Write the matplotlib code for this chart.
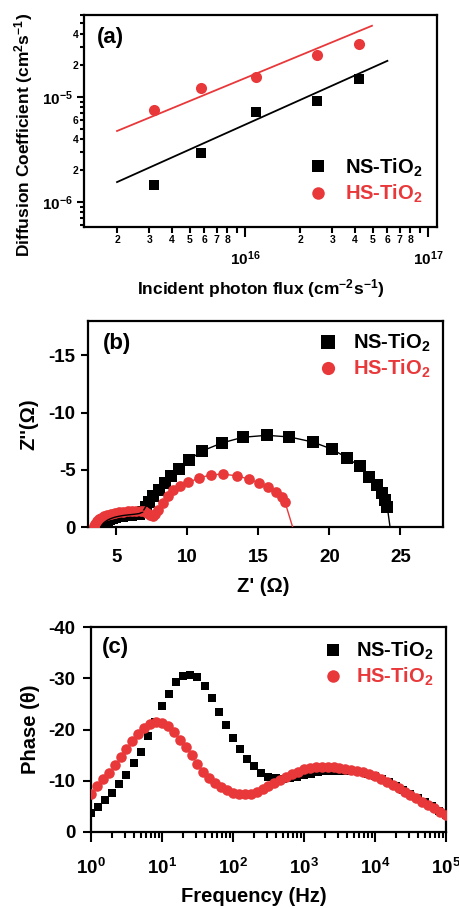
import numpy as np
import matplotlib
matplotlib.use("Agg")
import matplotlib.pyplot as plt
from matplotlib.ticker import LogLocator, FuncFormatter, FixedLocator, NullFormatter
from matplotlib.lines import Line2D

plt.rcParams['font.family'] = ['Liberation Sans', 'DejaVu Sans']
plt.rcParams['font.weight'] = 'bold'
plt.rcParams['axes.labelweight'] = 'bold'
plt.rcParams['mathtext.fontset'] = 'custom'
plt.rcParams['mathtext.rm'] = 'Liberation Sans'
plt.rcParams['mathtext.bf'] = 'Liberation Sans:bold'
plt.rcParams['mathtext.it'] = 'Liberation Sans:italic:bold'
plt.rcParams['mathtext.default'] = 'bf'
plt.rcParams['axes.unicode_minus'] = False

RED = '#E8383A'
BLACK = '#000000'
NS_LABEL = r'NS-TiO$_2$'
HS_LABEL = r'HS-TiO$_2$'

# ---------------- (a) data ----------------
flux = [3.2e15, 5.75e15, 1.15e16, 2.47e16, 4.2e16]
D_ns = [1.45e-6, 2.93e-6, 7.2e-6, 9.2e-6, 1.48e-5]
D_hs = [7.5e-6, 1.22e-5, 1.55e-5, 2.5e-5, 3.2e-5]
fit_ns_x = [2.0e15, 6.0e16]
fit_ns_y = [1.55e-6, 2.2e-5]
fit_hs_x = [2.0e15, 4.94e16]
fit_hs_y = [4.74e-6, 4.74e-5]

# ---------------- (b) data ----------------
ns_zre = [3.9, 4.0, 4.1, 4.2, 4.35, 4.5, 4.7, 4.9, 5.15, 5.4, 5.7, 6.0, 6.3, 6.6, 6.85,
          7.05, 7.3, 7.6, 8.0, 8.45, 8.85, 9.4, 10.08, 11.05, 12.42, 13.9, 15.58, 17.18,
          18.82, 20.16, 21.23, 22.15, 22.8, 23.33, 23.68, 23.92, 24.08]
ns_zim = [0.0, -0.2, -0.35, -0.45, -0.58, -0.68, -0.78, -0.86, -0.93, -0.99, -1.04, -1.08,
          -1.12, -1.17, -1.3, -1.75, -2.15, -2.7, -3.25, -3.85, -4.45, -5.1, -5.85, -6.65,
          -7.34, -7.84, -8.01, -7.87, -7.43, -6.81, -6.06, -5.29, -4.41, -3.68, -2.95,
          -2.37, -1.73]
ns_fit_end = [24.27, 0.0]
hs_zre = [3.45, 3.5, 3.6, 3.75, 3.9, 4.1, 4.35, 4.6, 4.9, 5.2, 5.5, 5.8, 6.1, 6.4, 6.7,
          6.95, 7.15, 7.35, 7.55, 7.75, 7.95, 8.3, 8.65, 9.0, 9.48, 10.06, 10.8, 11.64,
          12.53, 13.47, 14.36, 15.06, 15.7, 16.24, 16.64, 16.87]
hs_zim = [-0.1, -0.3, -0.5, -0.68, -0.82, -0.95, -1.07, -1.16, -1.24, -1.3, -1.35, -1.38,
          -1.4, -1.41, -1.42, -1.38, -1.25, -1.05, -0.95, -1.1, -1.5, -2.13, -2.72, -3.19,
          -3.54, -3.89, -4.27, -4.56, -4.62, -4.47, -4.18, -3.83, -3.48, -3.04, -2.6, -2.19]
hs_fit_end = [17.41, 0.0]

# ---------------- (c) data ----------------
freq_ns = [1, 1.259, 1.585, 1.995, 2.512, 3.162, 3.981, 5.012, 6.31, 7.943,
           10, 12.59, 15.85, 19.95, 25.12, 31.62, 39.81, 50.12, 63.1, 79.43,
           100, 125.9, 158.5, 199.5, 251.2, 316.2, 398.1, 501.2, 631, 794.3,
           1000, 1259, 1585, 1995, 2512, 3162, 3981, 5012, 6310, 7943,
           1e4, 1.259e4, 1.585e4, 1.995e4, 2.512e4, 3.162e4, 3.981e4, 5.012e4, 6.31e4, 7.943e4,
           1e5]
phase_ns = [-3.8, -4.8, -6.2, -7.7, -9.3, -11.1, -13.4, -15.7, -18.7, -21.5,
            -24.5, -27.0, -29.3, -30.4, -30.7, -30.2, -28.5, -26.1, -23.5, -20.9,
            -18.3, -16.2, -14.3, -12.8, -11.6, -10.8, -10.5, -10.4, -10.5, -10.8,
            -11.1, -11.4, -11.7, -11.9, -12.0, -12.0, -12.0, -11.9, -11.7, -11.4,
            -11.0, -10.4, -9.7, -9.0, -8.2, -7.4, -6.6, -5.8, -5.0, -4.1,
            -3.3]
freq_hs = [1, 1.212, 1.468, 1.778, 2.154, 2.61, 3.162, 3.831, 4.642, 5.623, 6.813, 8.254,
           10, 12.12, 14.68, 17.78, 21.54, 26.1, 31.62, 38.31, 46.42, 56.23, 68.13, 82.54,
           100, 121.2, 146.8, 177.8, 215.4, 261, 316.2, 383.1, 464.2, 562.3, 681.3, 825.4,
           1000, 1212, 1468, 1778, 2154, 2610, 3162, 3831, 4642, 5623, 6813, 8254,
           1e4, 1.212e4, 1.468e4, 1.778e4, 2.154e4, 2.61e4, 3.162e4, 3.831e4, 4.642e4,
           5.623e4, 6.813e4, 8.254e4, 1e5]
phase_hs = [-7.4, -8.9, -10.3, -11.6, -13.0, -14.7, -16.2, -17.7, -19.1, -20.3, -21.1, -21.5,
            -21.3, -20.6, -19.5, -18.0, -16.6, -15.0, -13.3, -11.8, -10.5, -9.5, -8.7, -8.1,
            -7.7, -7.5, -7.4, -7.5, -7.8, -8.3, -8.9, -9.5, -10.1, -10.7, -11.3, -11.8,
            -12.2, -12.5, -12.7, -12.7, -12.7, -12.6, -12.5, -12.3, -12.1, -11.9, -11.7, -11.3,
            -10.9, -10.4, -9.8, -9.2, -8.6, -7.9, -7.2, -6.6, -5.9, -5.3, -4.6, -4.0,
            -3.3]

W, H = 460, 908
fig = plt.figure(figsize=(W / 100, H / 100), dpi=100)


def box(l, t, r, b):
    return [l / W, 1 - b / H, (r - l) / W, (b - t) / H]


def style_axes(ax):
    for s in ax.spines.values():
        s.set_linewidth(1.6)
    ax.tick_params(which='both', direction='out', width=1.5, top=False, right=False)


def legend(ax, x, y, fs, pad, ms_s, ms_o):
    hs = [Line2D([], [], ls='none', marker='s', ms=ms_s, color=BLACK, mew=0),
          Line2D([], [], ls='none', marker='o', ms=ms_o, color=RED, mew=0)]
    lg = ax.legend(hs, [NS_LABEL, HS_LABEL], loc='center left', bbox_to_anchor=(x, y),
                   frameon=False, fontsize=fs, handlelength=1.0, handletextpad=pad,
                   borderpad=0, borderaxespad=0, labelspacing=0.2)
    lg.get_texts()[1].set_color(RED)
    return lg


def dec_fmt(x, pos):
    e = int(np.round(np.log10(x)))
    return r'$10^{%d}$' % e


def minor_fmt(keep, lo, hi):
    def f(x, pos):
        if x < lo or x > hi:
            return ''
        e = np.floor(np.log10(x) + 1e-9)
        m = int(np.round(x / 10 ** e))
        return str(m) if m in keep else ''
    return f


# ================= (a) =================
ax = fig.add_axes(box(84, 15, 437, 227))
style_axes(ax)
ax.set_xscale('log')
ax.set_yscale('log')
ax.plot(fit_ns_x, fit_ns_y, color=BLACK, lw=1.3)
ax.plot(fit_hs_x, fit_hs_y, color=RED, lw=1.3)
ax.plot(flux, D_ns, ls='none', marker='s', ms=7.2, color=BLACK, mew=0)
ax.plot(flux, D_hs, ls='none', marker='o', ms=8.0, color=RED, mew=0)
ax.set_xlim(1.32e15, 1.12e17)
ax.set_ylim(5.8e-7, 6.0e-5)

ax.xaxis.set_major_locator(LogLocator(base=10, subs=(1.0,)))
ax.xaxis.set_minor_locator(LogLocator(base=10, subs=np.arange(2, 10)))
ax.xaxis.set_major_formatter(FuncFormatter(dec_fmt))
ax.xaxis.set_minor_formatter(FuncFormatter(minor_fmt({2, 3, 4, 5, 6, 7, 8}, 0, 1e20)))
ax.yaxis.set_major_locator(LogLocator(base=10, subs=(1.0,)))
ax.yaxis.set_minor_locator(LogLocator(base=10, subs=np.arange(2, 10)))
ax.yaxis.set_major_formatter(FuncFormatter(dec_fmt))
ax.yaxis.set_minor_formatter(FuncFormatter(minor_fmt({2, 4, 6}, 1e-6, 5e-5)))
ax.tick_params(axis='x', which='major', length=7, labelsize=11, pad=9)
ax.tick_params(axis='x', which='minor', length=4, labelsize=7.5, pad=2)
ax.tick_params(axis='y', which='major', length=5, labelsize=11, pad=3)
ax.tick_params(axis='y', which='minor', length=3, labelsize=7.5, pad=1)
ax.set_xlabel(r'Incident photon flux (cm$^{-2}$s$^{-1}$)', fontsize=12.5)
ax.set_ylabel(r'Diffusion Coefficient (cm$^{2}$s$^{-1}$)', fontsize=12.5)
ax.xaxis.set_label_coords(0.501, -0.236)
ax.yaxis.set_label_coords(-0.139, 0.434)
ax.text(0.037, 0.892, '(a)', transform=ax.transAxes, fontsize=16, ha='left', va='center')
legend(ax, 0.635, 0.219, 14.5, 0.85, 8.4, 9.0)

# ================= (b) =================
ax = fig.add_axes(box(88, 321, 443, 527))
style_axes(ax)
ax.plot(ns_zre, ns_zim, ls='none', marker='s', ms=8.0, color=BLACK, mew=0, zorder=2)
ax.plot(hs_zre, hs_zim, ls='none', marker='o', ms=7.7, color=RED, mew=0, zorder=3)
ax.plot(ns_zre + [ns_fit_end[0]], ns_zim + [ns_fit_end[1]], color=BLACK, lw=1.0, zorder=4)
ax.plot(hs_zre + [hs_fit_end[0]], hs_zim + [hs_fit_end[1]], color=RED, lw=1.0, zorder=4)
ax.set_xlim(3, 28)
ax.set_ylim(0, -18)
ax.xaxis.set_major_locator(FixedLocator([5, 10, 15, 20, 25]))
ax.yaxis.set_major_locator(FixedLocator([0, -5, -10, -15]))
ax.tick_params(axis='x', length=6, labelsize=13.5, pad=10)
ax.tick_params(axis='y', length=5, labelsize=13.5, pad=4)
ax.set_xlabel("Z' (Ω)", fontsize=14.5)
ax.set_ylabel("Z''(Ω)", fontsize=14.5)
ax.xaxis.set_label_coords(0.493, -0.243)
ax.yaxis.set_label_coords(-0.141, 0.5)
ax.text(0.042, 0.893, '(b)', transform=ax.transAxes, fontsize=16, ha='left', va='center')
legend(ax, 0.648, 0.83, 14.5, 0.75, 9.5, 9.5)

# ================= (c) =================
ax = fig.add_axes(box(91, 627, 446, 832))
style_axes(ax)
ax.set_xscale('log')
ax.plot(freq_ns, phase_ns, ls='none', marker='s', ms=6.0, color=BLACK, mew=0, zorder=2)
ax.plot(freq_hs, phase_hs, ls='none', marker='o', ms=7.6, color=RED, mew=0, zorder=3)
ax.set_xlim(1, 1e5)
ax.set_ylim(0, -40)
ax.xaxis.set_major_locator(LogLocator(base=10, subs=(1.0,)))
ax.xaxis.set_minor_locator(LogLocator(base=10, subs=np.arange(2, 10)))
ax.xaxis.set_major_formatter(FuncFormatter(dec_fmt))
ax.xaxis.set_minor_formatter(NullFormatter())
ax.yaxis.set_major_locator(FixedLocator([0, -10, -20, -30, -40]))
ax.tick_params(axis='x', which='major', length=7, labelsize=13.5, pad=12)
ax.tick_params(axis='x', which='minor', length=4)
ax.tick_params(axis='y', length=6, labelsize=13.5, pad=5)
ax.set_xlabel('Frequency (Hz)', fontsize=14.5)
ax.set_ylabel('Phase (θ)', fontsize=14.5)
ax.xaxis.set_label_coords(0.459, -0.268)
ax.yaxis.set_label_coords(-0.144, 0.502)
ax.text(0.031, 0.898, '(c)', transform=ax.transAxes, fontsize=16, ha='left', va='center')
legend(ax, 0.654, 0.82, 14.5, 0.65, 9.0, 9.0)

fig.savefig('out.png', dpi=100)
